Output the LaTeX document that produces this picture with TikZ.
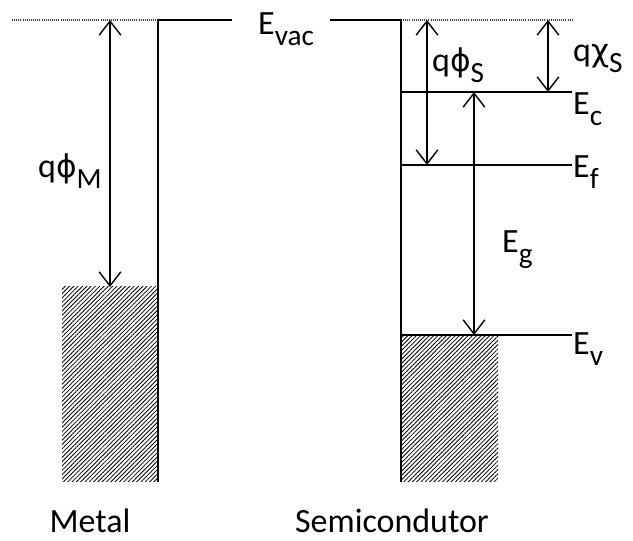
\documentclass[tikz,border=0pt]{standalone}
\usepackage{fontspec}
\setmainfont{Carlito}
\newfontfamily\grkfont[Scale=0.92]{DejaVu Sans}
\usetikzlibrary{arrows.meta,patterns.meta,positioning}
% level name with a lowered, slightly smaller index
\newcommand{\lowsub}[2]{#1\raisebox{-0.3em}{\fontsize{25}{28}\selectfont #2}}

\begin{document}
\begin{tikzpicture}[x=0.03cm,y=-0.03cm,font=\fontsize{29}{34}\selectfont,
    level/.style={line width=1.2pt},
    vacdots/.style={line width=1pt,black!75,dash pattern=on 0.7pt off 1.1pt},
    gaparrow/.style={{Straight Barb[length=4.2mm,width=6.5mm]}-{Straight Barb[length=4.2mm,width=6.5mm]},line width=1.2pt},
    band/.style={pattern={Lines[angle=45,distance=2.6pt,line width=0.7pt]}},
    lbl/.style={inner sep=0pt,anchor=base west}]
  \useasboundingbox (0,0) rectangle (633,541);

  % metal side
  \coordinate (vacleft) at (12,20);
  \coordinate (mvac) at (158,20);
  \coordinate (mvacend) at (232,20);
  \coordinate (mbot) at (158,482);
  \coordinate (mfermi) at (62,287);
  \fill[band] (mfermi) rectangle (mbot);
  \draw[vacdots] (vacleft) -- (mvac);
  \draw[level] (mbot) -- (mvac) -- (mvacend);
  \coordinate (phiMtop) at (110,20);
  \coordinate (phiMbot) at (110,287);
  \draw[gaparrow] (phiMtop) -- (phiMbot);

  % semiconductor side
  \coordinate (svacstart) at (330,20);
  \coordinate (svac) at (401,20);
  \coordinate (svacend) at (572,20);
  \coordinate (sbot) at (401,482);
  \coordinate (ecl) at (401,92);
  \coordinate (ecr) at (572,92);
  \coordinate (efl) at (401,165);
  \coordinate (efr) at (572,165);
  \coordinate (evl) at (401,335);
  \coordinate (evr) at (572,335);
  \coordinate (vbot) at (498,482);
  \fill[band] (evl) rectangle (vbot);
  \draw[vacdots] (svac) -- (svacend);
  \draw[level] (svacstart) -- (svac) -- (sbot);
  \draw[level] (ecl) -- (ecr);
  \draw[level] (efl) -- (efr);
  \draw[level] (evl) -- (evr);

  \coordinate (phiStop) at (427,20);
  \coordinate (phiSbot) at (427,165);
  \coordinate (chiStop) at (548,20);
  \coordinate (chiSbot) at (548,92);
  \coordinate (gaptop) at (474,92);
  \coordinate (gapbot) at (474,335);
  \draw[gaparrow] (phiStop) -- (phiSbot);
  \draw[gaparrow] (chiStop) -- (chiSbot);
  \draw[gaparrow] (gaptop) -- (gapbot);

  % labels
  \node[lbl] (evac) at (258,35) {\lowsub{E}{vac}};
  \node[lbl] (phiM) at (38,178) {q{\grkfont ϕ}\lowsub{}{M}};
  \node[lbl] (phiS) at (432,72) {q{\grkfont ϕ}\lowsub{}{S}};
  \node[lbl] (chiS) at (573,62) {q{\grkfont χ}\lowsub{}{S}};
  \node[lbl] (ec) at (573,115) {\lowsub{E}{c}};
  \node[lbl] (ef) at (573,178) {\lowsub{E}{f}};
  \node[lbl] (eg) at (502,253) {\lowsub{E}{g}};
  \node[lbl] (ev) at (573,355) {\lowsub{E}{v}};
  \node[inner sep=0pt,anchor=base] (metal) at (90,533) {Metal};
  \node[inner sep=0pt,anchor=base] (semi) at (392,533) {Semicondutor};
\end{tikzpicture}
\end{document}
